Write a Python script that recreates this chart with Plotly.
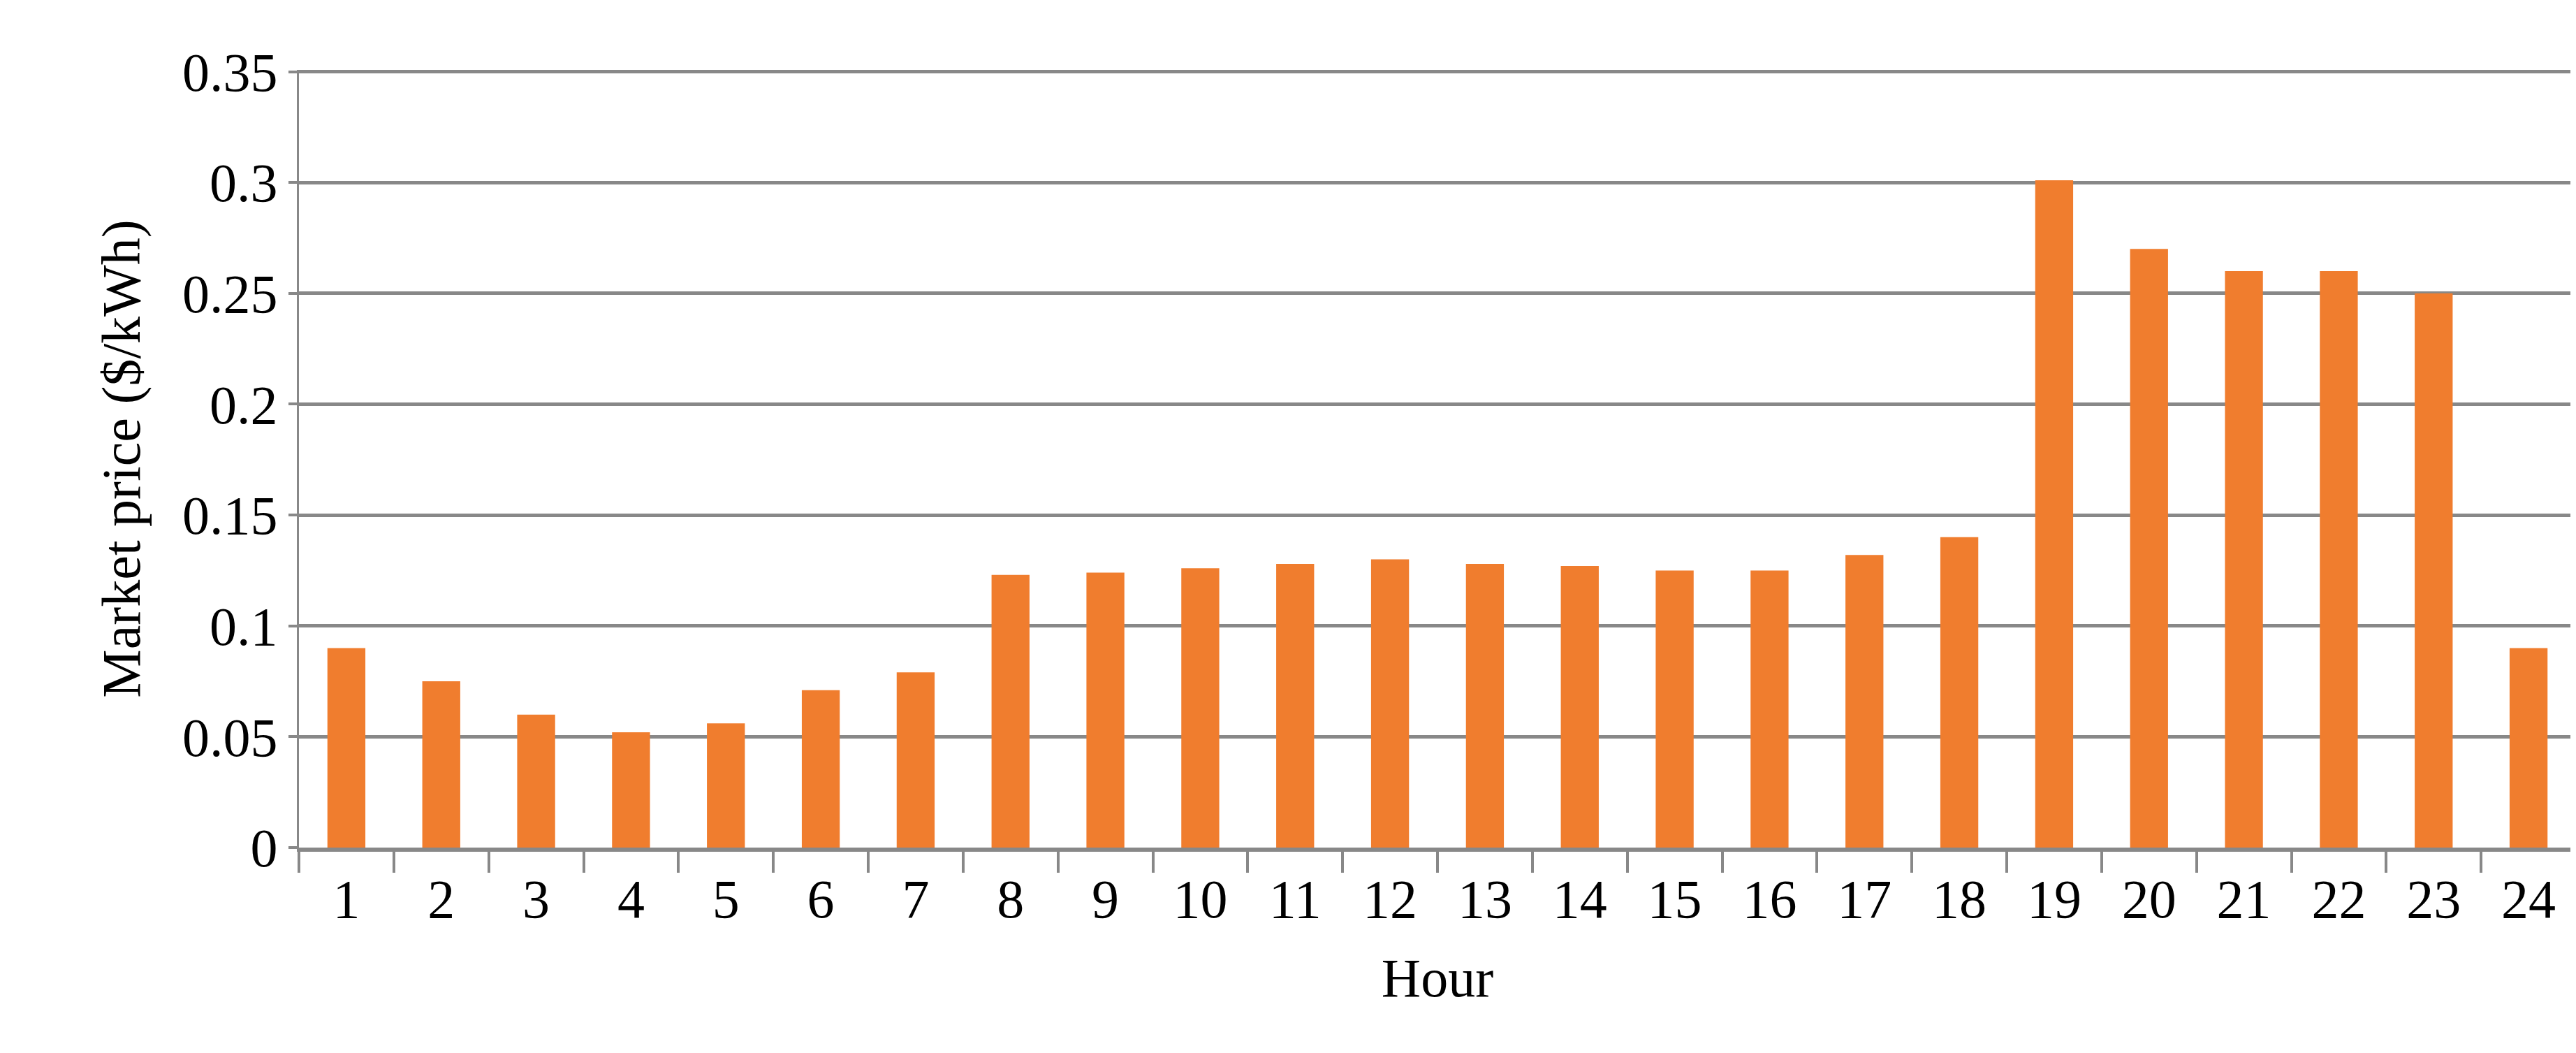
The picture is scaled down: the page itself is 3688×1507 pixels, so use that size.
import plotly.graph_objects as go

hours = [str(i) for i in range(1, 25)]
prices = [0.090, 0.075, 0.060, 0.052, 0.056, 0.071, 0.079, 0.123, 0.124, 0.126, 0.128, 0.130,
          0.128, 0.127, 0.125, 0.125, 0.132, 0.140, 0.301, 0.270, 0.260, 0.260, 0.250, 0.090]
yticks = [0, 0.05, 0.1, 0.15, 0.2, 0.25, 0.3, 0.35]
ytick_text = ["0", "0.05", "0.1", "0.15", "0.2", "0.25", "0.3", "0.35"]

fig = go.Figure(go.Bar(x=hours, y=prices, width=0.4,
                       marker=dict(color="#F07D2E", line=dict(width=0))))
font = dict(family="Liberation Serif", size=78, color="black")
fig.update_layout(
    width=3688, height=1507, plot_bgcolor="white", paper_bgcolor="white",
    margin=dict(l=420, r=8, t=92, b=302), font=font, showlegend=False,
    xaxis=dict(title=dict(text="Hour", font=font, standoff=45), type="category",
               tickson="boundaries", ticks="outside", ticklen=30, tickwidth=4,
               tickcolor="#888", showline=True, linecolor="#888", linewidth=6,
               showgrid=False, tickfont=font),
    yaxis=dict(title=dict(text="Market price ($/kWh)", font=font, standoff=35),
               range=[0, 0.3508], tickvals=yticks, ticktext=ytick_text,
               ticks="outside", ticklen=12, tickwidth=4, tickcolor="#888",
               showgrid=True, gridcolor="#888", gridwidth=5, zeroline=False,
               showline=True, linecolor="#888", linewidth=3, tickfont=font),
)
fig.write_html("out.html")
